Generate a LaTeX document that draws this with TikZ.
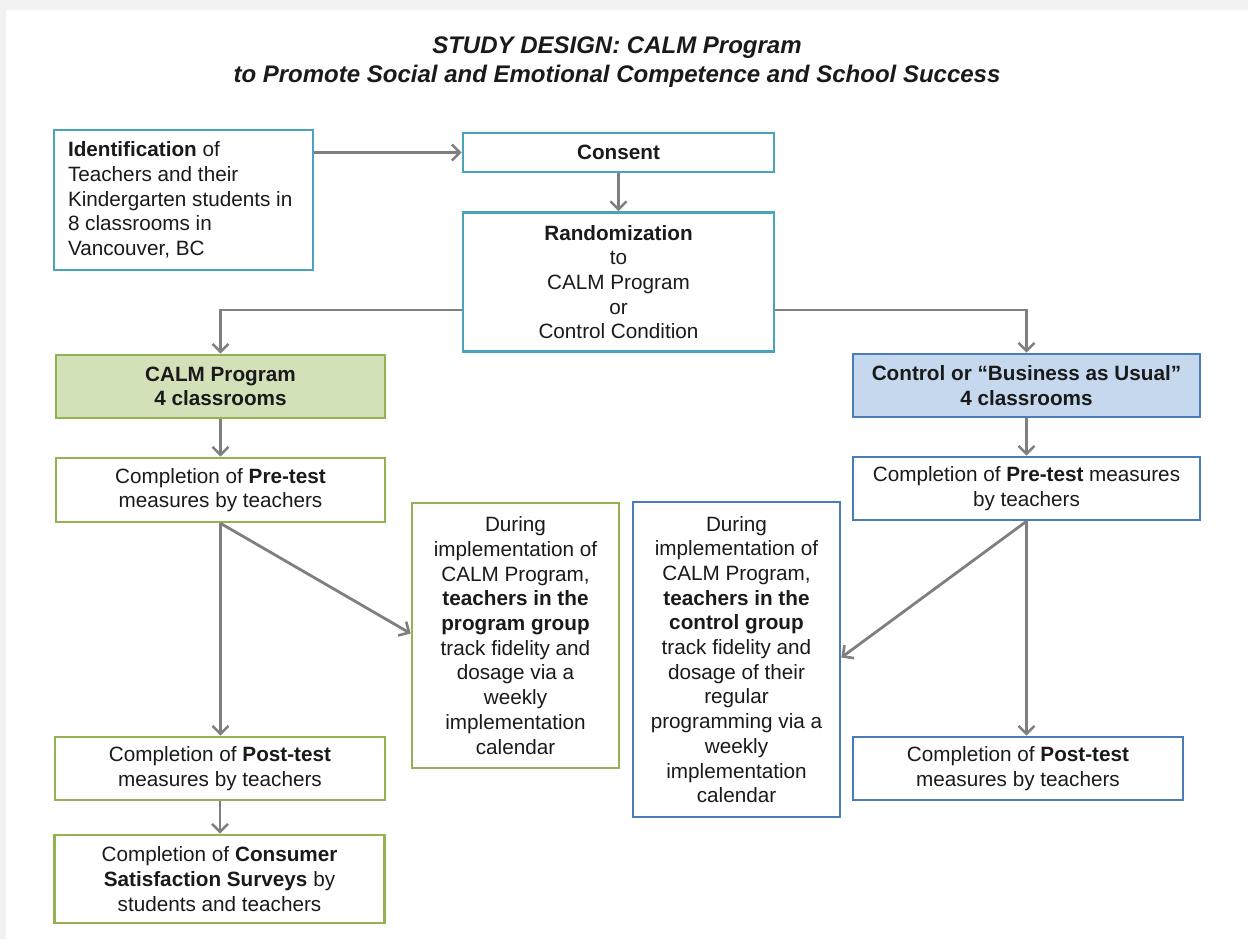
\documentclass[tikz,border=0pt]{standalone}
\usepackage{fontspec}
\setmainfont{Liberation Sans}
\usetikzlibrary{arrows.meta,calc}
\definecolor{teal1}{HTML}{4AA3B8}
\definecolor{grn}{HTML}{93B252}
\definecolor{grnfill}{HTML}{D3E1B9}
\definecolor{blu}{HTML}{4A7CB5}
\definecolor{blufill}{HTML}{C5D8EE}
\definecolor{arrgrey}{HTML}{7F7F7F}
\definecolor{txt}{HTML}{1A1A1A}
\definecolor{bggrey}{HTML}{F2F2F2}
\tikzset{
  box/.style={draw, line width=2.6pt, fill=white, inner sep=0pt, align=center,
    text=txt, font=\fontsize{20.7}{24.7}\selectfont},
  tealbox/.style={box, draw=teal1},
  grnbox/.style={box, draw=grn},
  blubox/.style={box, draw=blu},
  arr/.style={draw=arrgrey, line width=2.8pt, -{Straight Barb[length=8pt,width=16pt,line width=2.6pt]}},
}
\begin{document}
\begin{tikzpicture}[x=1pt,y=-1pt]
\useasboundingbox (0,0) rectangle (1248,939);
\fill[white] (0,0) rectangle (1248,939);
\fill[bggrey] (0,0) rectangle (1248,10);
\fill[bggrey] (0,0) rectangle (6,939);

\node[text=txt, align=center, font=\fontsize{24}{29}\selectfont\bfseries\itshape] (title) at (617,62)
  {STUDY DESIGN: CALM Program\\to Promote Social and Emotional Competence and School Success};

\node[tealbox, minimum width=259pt, minimum height=140pt, align=flush left, text width=231pt] (ident) at (183.5,200)
  {\textbf{Identification} of\\Teachers and their\\Kindergarten students in\\8 classrooms in\\Vancouver, BC};
\node[tealbox, minimum width=311pt, minimum height=39pt] (consent) at (618.5,152.5) {\textbf{Consent}};
\node[tealbox, minimum width=311pt, minimum height=139pt] (random) at (618.5,282)
  {\textbf{Randomization}\\to\\CALM Program\\or\\Control Condition};

\node[grnbox, fill=grnfill, minimum width=329pt, minimum height=63pt, font=\fontsize{20.7}{24.7}\selectfont\bfseries] (calm) at (220.5,386.5)
  {CALM Program\\4 classrooms};
\node[grnbox, minimum width=329pt, minimum height=64pt] (pre1) at (220.5,490)
  {Completion of \textbf{Pre-test}\\measures by teachers};
\node[grnbox, minimum width=207pt, minimum height=265pt] (mid1) at (515.5,635.5)
  {During\\implementation of\\CALM Program,\\\textbf{teachers in the}\\\textbf{program group}\\track fidelity and\\dosage via a\\weekly\\implementation\\calendar};
\node[grnbox, minimum width=330pt, minimum height=63pt] (post1) at (220,768.5)
  {Completion of \textbf{Post-test}\\measures by teachers};
\node[grnbox, minimum width=330pt, minimum height=88pt] (cons) at (219.5,879)
  {Completion of \textbf{Consumer}\\\textbf{Satisfaction Surveys} by\\students and teachers};

\node[blubox, fill=blufill, minimum width=347pt, minimum height=63pt, font=\fontsize{20.7}{24.7}\selectfont\bfseries] (ctrl) at (1026.5,385.5)
  {Control or “Business as Usual”\\4 classrooms};
\node[blubox, minimum width=347pt, minimum height=63pt] (pre2) at (1026.5,488.5)
  {Completion of \textbf{Pre-test} measures\\by teachers};
\node[blubox, minimum width=207pt, minimum height=315pt] (mid2) at (736.5,659.5)
  {During\\implementation of\\CALM Program,\\\textbf{teachers in the}\\\textbf{control group}\\track fidelity and\\dosage of their\\regular\\programming via a\\weekly\\implementation\\calendar};
\node[blubox, minimum width=330pt, minimum height=63pt] (post2) at (1018,768.5)
  {Completion of \textbf{Post-test}\\measures by teachers};

\draw[arr] (consent.west -| ident.east) -- (consent.west);
\draw[arr] (consent.south) -- (random.north);
\draw[arr] ($(random.west)+(0,28)$) -| (calm.north);
\draw[arr] ($(random.east)+(0,28)$) -| (ctrl.north);
\draw[arr] (calm.south) -- (pre1.north);
\draw[arr] (pre1.south) -- (post1.north -| pre1.south);
\draw[arr] (pre1.south) -- ($(mid1.west)+(0,-2)$);
\draw[arr] (post1.south) -- (cons.north -| post1.south);
\draw[arr] (ctrl.south) -- (pre2.north);
\draw[arr] (pre2.south) -- (post2.north -| pre2.south);
\draw[arr] (pre2.south) -- ($(mid2.east)+(0,-2)$);
\end{tikzpicture}
\end{document}
